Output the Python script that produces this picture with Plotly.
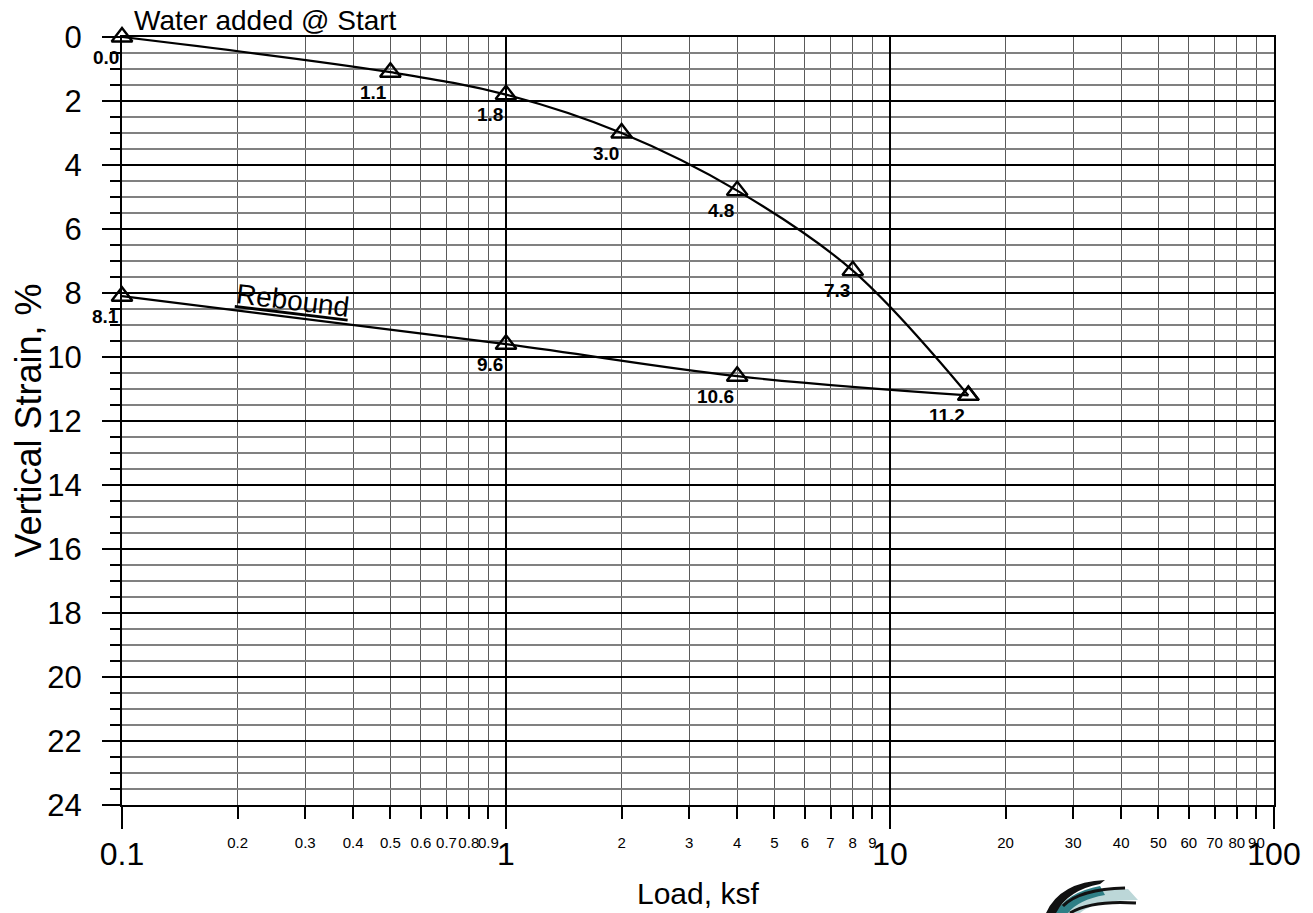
import plotly.graph_objects as go
import math

# ---- data ----
load_x = [0.1, 0.5, 1, 2, 4, 8, 16]
load_strain = [0.0, 1.1, 1.8, 3.0, 4.8, 7.3, 11.2]
rebound_x = [16, 4, 1, 0.1]
rebound_strain = [11.2, 10.6, 9.6, 8.1]

major_ticks = [0.1, 1, 10, 100]
major_labels = ["0.1", "1", "10", "100"]
minor_ticks = [0.2, 0.3, 0.4, 0.5, 0.6, 0.7, 0.8, 0.9,
               2, 3, 4, 5, 6, 7, 8, 9,
               20, 30, 40, 50, 60, 70, 80, 90]
minor_labels = ["0.2", "0.3", "0.4", "0.5", "0.6", "0.7", "0.8", "0.9",
                "2", "3", "4", "5", "6", "7", "8", "9",
                "20", "30", "40", "50", "60", "70", "80", "90"]
y_ticks = list(range(0, 25, 2))

FONT = "Liberation Sans, Arial, sans-serif"
OFF = 8  # page body margin offset

fig = go.Figure()

for xs, ys in ((load_x, load_strain), (rebound_x, rebound_strain)):
    fig.add_trace(go.Scatter(
        x=xs, y=ys, mode="lines+markers", cliponaxis=False,
        line=dict(color="black", width=2.2, shape="spline", smoothing=1.0),
        marker=dict(symbol="triangle-up-open", size=18, color="black",
                    line=dict(width=2.4, color="black")),
        showlegend=False, hoverinfo="skip"))

# invisible trace for the secondary (label-only) x axis
fig.add_trace(go.Scatter(x=[0.1, 100], y=[0, 24], xaxis="x2", mode="markers",
                         marker=dict(opacity=0), showlegend=False, hoverinfo="skip"))

annotations = []
pts = list(zip(load_x, load_strain)) + list(zip(rebound_x[1:], rebound_strain[1:]))
for xv, yv in pts:
    annotations.append(dict(
        x=math.log10(xv), y=yv, xref="x", yref="y", text=f"<b>{yv:.1f}</b>",
        showarrow=False, xanchor="right", yanchor="middle", xshift=-1, yshift=-20,
        font=dict(family=FONT, size=19, color="black")))

annotations.append(dict(
    x=math.log10(load_x[0]), y=0, xref="x", yref="y", text="Water added @ Start",
    showarrow=False, xanchor="left", yanchor="bottom", xshift=10, yshift=-1,
    font=dict(family=FONT, size=28, color="black")))

annotations.append(dict(
    x=-0.555, y=8.22, xref="x", yref="y", text="<u>Rebound</u>",
    showarrow=False, textangle=7, xanchor="center", yanchor="middle",
    font=dict(family=FONT, size=28, color="black")))

annotations.append(dict(
    x=0.5, y=-0.115, xref="paper", yref="paper", text="Load, ksf",
    showarrow=False, xanchor="center", yanchor="middle",
    font=dict(family=FONT, size=30, color="black")))

annotations.append(dict(
    x=-0.082, y=0.5, xref="paper", yref="paper", text="Vertical Strain, %",
    showarrow=False, textangle=-90, xanchor="center", yanchor="middle",
    font=dict(family=FONT, size=36, color="black")))

fig.update_layout(
    width=1313, height=913,
    margin=dict(l=122 - OFF, r=39 + OFF, t=37 - OFF, b=108 + OFF),
    paper_bgcolor="white", plot_bgcolor="white",
    font=dict(family=FONT, color="black"),
    annotations=annotations,
    xaxis=dict(
        type="log", range=[-1, 2], automargin=False,
        tickvals=major_ticks, ticktext=major_labels, tickangle=0,
        tickfont=dict(size=32), ticks="outside", ticklen=22, tickwidth=2,
        tickcolor="black", ticklabelstandoff=-2,
        showgrid=True, gridcolor="black", gridwidth=2,
        showline=True, linecolor="black", linewidth=2, mirror=True,
        zeroline=False,
        minor=dict(tickvals=minor_ticks, ticks="outside", ticklen=12,
                   tickwidth=1.5, tickcolor="black",
                   showgrid=True, gridcolor="#5a5a5a", gridwidth=1.3),
    ),
    xaxis2=dict(
        type="log", range=[-1, 2], overlaying="x", side="bottom", anchor="y",
        automargin=False,
        tickvals=minor_ticks, ticktext=minor_labels, tickangle=0,
        tickfont=dict(size=15), ticks="", ticklabelstandoff=27,
        showgrid=False, showline=False, zeroline=False,
    ),
    yaxis=dict(
        range=[24, 0], tickvals=y_ticks, automargin=False,
        tickfont=dict(size=31), ticks="outside", ticklen=18, tickwidth=2,
        tickcolor="black", ticklabelstandoff=14,
        showgrid=True, gridcolor="black", gridwidth=2,
        showline=True, linecolor="black", linewidth=2, mirror=True,
        zeroline=False,
        minor=dict(dtick=0.5, ticks="outside", ticklen=10, tickwidth=2,
                   tickcolor="black", showgrid=True, gridcolor="#808080",
                   gridwidth=2),
    ),
)

# decorative logo (bottom right), positioned in paper coordinates
def P(px, py):
    return (px - 122) / 1152.0, (805 - py) / 768.0

def path(cmds):
    out = []
    for c in cmds:
        if isinstance(c, str):
            out.append(c)
        else:
            x, y = P(*c)
            out.append(f"{x:.4f},{y:.4f}")
    return " ".join(out)

logo_shapes = [
    dict(type="path", xref="paper", yref="paper",
         path=path(["M", (1062, 913), "Q", (1080, 890), (1128, 889), "L", (1138, 900),
                    "Q", (1095, 900), (1080, 913), "Z"]),
         fillcolor="#bcd7d8", line=dict(width=0), layer="above"),
    dict(type="path", xref="paper", yref="paper",
         path=path(["M", (1055, 913), "Q", (1068, 892), (1100, 886), "L", (1105, 895),
                    "Q", (1078, 900), (1068, 913), "Z"]),
         fillcolor="#2f7f86", line=dict(width=0), layer="above"),
    dict(type="path", xref="paper", yref="paper",
         path=path(["M", (1046, 913), "Q", (1060, 882), (1105, 880), "L", (1100, 884),
                    "Q", (1068, 890), (1056, 913), "Z"]),
         fillcolor="#111111", line=dict(width=0), layer="above"),
    dict(type="path", xref="paper", yref="paper",
         path=path(["M", (1063, 906), "Q", (1080, 889), (1125, 888)]),
         line=dict(color="#111111", width=3), layer="above"),
    dict(type="path", xref="paper", yref="paper",
         path=path(["M", (1070, 913), "Q", (1092, 900), (1136, 903)]),
         line=dict(color="#111111", width=3), layer="above"),
]
fig.update_layout(shapes=logo_shapes)

fig.write_html("out.html")
